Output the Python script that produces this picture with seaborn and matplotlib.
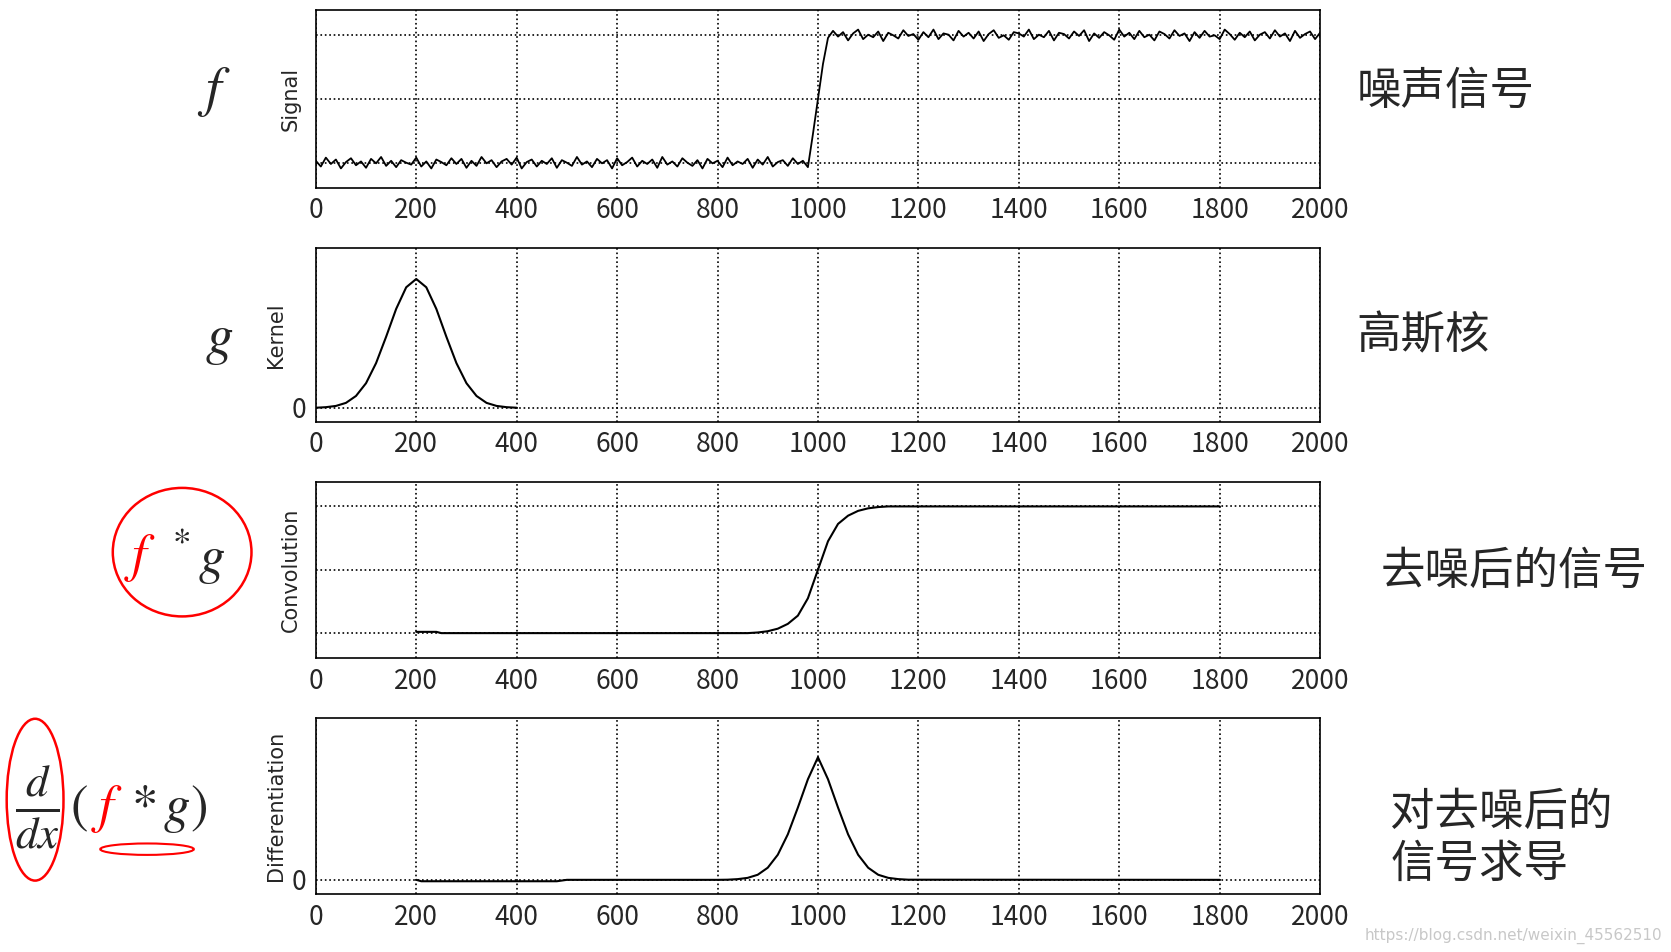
import numpy as np
import pandas as pd
import seaborn as sns
import matplotlib.pyplot as plt
from matplotlib.patches import Ellipse

sns.set_style("white")
plt.rcParams['font.family'] = ['Noto Sans CJK SC', 'DejaVu Sans']
plt.rcParams['mathtext.fontset'] = 'stix'

# noisy step signal, sampled every 10
low_noise = [0.03, -0.06, 0.08, -0.02, 0.05, -0.09, 0.01, 0.07, -0.04, 0.02,
             -0.08, 0.06, -0.01, 0.09, -0.05, 0.03, -0.07, 0.04, 0.00, -0.03,
             0.08, -0.06, 0.02, -0.09, 0.05, 0.01, -0.04, 0.07, -0.02, 0.06,
             -0.08, 0.03, -0.05, 0.09, -0.01, 0.04, -0.07, 0.02, 0.06, -0.03,
             0.08, -0.09, 0.01, 0.05, -0.06, 0.03, -0.02, 0.07, -0.08, 0.04,
             0.00, -0.05, 0.09, -0.03, 0.02, -0.07, 0.06, -0.01, 0.04, -0.09,
             0.07, -0.04, 0.01, 0.08, -0.06, 0.03, -0.02, 0.05, -0.08, 0.09,
             -0.03, 0.02, -0.06, 0.07, 0.00, -0.05, 0.04, -0.09, 0.06, -0.01,
             0.03, -0.07, 0.08, -0.04, 0.02, -0.02, 0.06, -0.08, 0.05, -0.03,
             0.09, -0.06, 0.01, 0.04, -0.05, 0.07, -0.02, 0.03, -0.07]
high_noise = [-0.04, 0.07, -0.02, 0.05, -0.08, 0.03, 0.09, -0.06, 0.01, -0.03,
              0.06, -0.09, 0.04, 0.00, -0.05, 0.08, -0.01, 0.02, -0.07, 0.05,
              -0.03, 0.09, -0.06, 0.03, 0.01, -0.08, 0.07, -0.02, 0.04, -0.05,
              0.06, -0.09, 0.02, 0.08, -0.04, 0.00, -0.07, 0.05, 0.03, -0.02,
              0.09, -0.06, 0.01, -0.03, 0.07, -0.08, 0.04, 0.02, -0.05, 0.06,
              -0.01, 0.08, -0.09, 0.03, -0.04, 0.05, 0.00, -0.07, 0.09, -0.02,
              0.04, -0.06, 0.07, -0.03, 0.01, -0.08, 0.06, 0.02, -0.05, 0.08,
              -0.01, 0.03, -0.09, 0.05, -0.04, 0.07, -0.02, 0.00, -0.06, 0.09,
              0.02, -0.07, 0.04, -0.03, 0.06, -0.08, 0.01, 0.05, -0.05, 0.08,
              -0.02, 0.03, -0.09, 0.07, -0.04, 0.02, 0.06, -0.06, 0.04]
ramp_x = [990, 1000, 1010]
ramp_y = [-0.55, 0.0, 0.55]

kernel_x = [0, 20, 40, 60, 80, 100, 120, 140, 160, 180, 200, 220, 240, 260, 280,
            300, 320, 340, 360, 380, 400]
kernel_y = [0.001, 0.005, 0.014, 0.036, 0.086, 0.178, 0.323, 0.513, 0.714, 0.87,
            0.93, 0.87, 0.714, 0.513, 0.323, 0.178, 0.086, 0.036, 0.014, 0.005, 0.001]

conv_x = [200, 240, 250, 860, 880, 900, 920, 940, 960, 980,
          1000, 1020, 1040, 1060, 1080, 1100, 1120, 1140, 1800]
conv_y = [-0.98, -0.98, -1.0, -1.0, -0.99, -0.97, -0.93, -0.854, -0.724, -0.45,
          0.0, 0.45, 0.724, 0.854, 0.93, 0.97, 0.99, 1.0, 1.0]

diff_x = [200, 210, 480, 500, 800, 820, 840, 860, 880, 900, 920, 940, 960, 980,
          1000, 1020, 1040, 1060, 1080, 1100, 1120, 1140, 1160, 1180, 1800]
diff_y = [0.0, -0.01, -0.01, 0.0, 0.0, 0.001, 0.005, 0.014, 0.036, 0.086, 0.178,
          0.323, 0.513, 0.714, 0.87, 0.714, 0.513, 0.323, 0.178, 0.086, 0.036,
          0.014, 0.005, 0.001, 0.0]

sig_x = list(range(0, 990, 10)) + ramp_x + list(range(1020, 2001, 10))
sig_y = [-1 + v for v in low_noise] + ramp_y + [1 + v for v in high_noise]

fig = plt.figure(figsize=(16.71, 9.52), dpi=100)
boxes = [(0.803, 0.989), (0.557, 0.739), (0.309, 0.494), (0.061, 0.246)]
series = [(sig_x, sig_y), (kernel_x, kernel_y), (conv_x, conv_y), (diff_x, diff_y)]
ylabels = ['Signal', 'Kernel', 'Convolution', 'Differentiation']
for i, ((b, t), (xs, ys)) in enumerate(zip(boxes, series)):
    ax = fig.add_axes([0.189, b, 0.601, t - b])
    df = pd.DataFrame({'x': xs, 'y': ys})
    sns.lineplot(data=df, x='x', y='y', ax=ax, color='black', lw=1.3 if i == 0 else 1.5)
    ax.set_xlim(0, 2000)
    ax.set_xticks(range(0, 2001, 200))
    if i in (0, 2):
        ax.set_ylim(-1.39, 1.39)
        ax.set_yticks([-1, 0, 1])
        ax.set_yticklabels([])
    else:
        ax.set_ylim(-0.1, 1.15)
        ax.set_yticks([0])
        ax.set_yticklabels(['0'])
    ax.grid(True, color='black', linestyle=':', lw=1.2)
    ax.tick_params(labelsize=19, length=0, pad=7)
    ax.set_xlabel('')
    ax.set_ylabel(ylabels[i], fontsize=15, family='DejaVu Sans', labelpad=4)
    for s in ax.spines.values():
        s.set_color('black')
        s.set_linewidth(1.2)

# right-hand captions
fig.text(0.812, 0.905, '噪声信号', fontsize=32, va='center')
fig.text(0.812, 0.648, '高斯核', fontsize=32, va='center')
fig.text(0.826, 0.400, '去噪后的信号', fontsize=32, va='center')
fig.text(0.832, 0.120, '对去噪后的\n信号求导', fontsize=32, va='center', linespacing=1.15)

# left math labels
fig.text(0.128, 0.905, r'$f$', fontsize=40, va='center', ha='center')
fig.text(0.131, 0.645, r'$g$', fontsize=40, va='center', ha='center')
fig.text(0.084, 0.415, r'$f$', fontsize=38, color='red', va='center', ha='center')
fig.text(0.117, 0.415, r'$^*g$', fontsize=38, va='center', ha='center')
fig.text(0.022, 0.152, r'$\frac{d}{dx}$', fontsize=46, va='center', ha='center')
fig.text(0.047, 0.152, r'$($', fontsize=38, va='center', ha='center')
fig.text(0.064, 0.152, r'$f$', fontsize=38, color='red', va='center', ha='center')
fig.text(0.101, 0.152, r'$*\,g)$', fontsize=38, va='center', ha='center')
fig.patches.append(Ellipse((0.109, 0.42), 0.083, 0.135, transform=fig.transFigure,
                           fill=False, color='red', lw=1.8))
fig.patches.append(Ellipse((0.021, 0.16), 0.034, 0.17, transform=fig.transFigure,
                           fill=False, color='red', lw=1.8))
fig.patches.append(Ellipse((0.088, 0.108), 0.056, 0.012, transform=fig.transFigure,
                           fill=False, color='red', lw=1.5))

fig.text(0.995, 0.008, 'https://blog.csdn.net/weixin_45562510', fontsize=11,
         color='#c8c8c8', ha='right', va='bottom', family='DejaVu Sans')

fig.savefig('out.png', dpi=100, facecolor='white')
